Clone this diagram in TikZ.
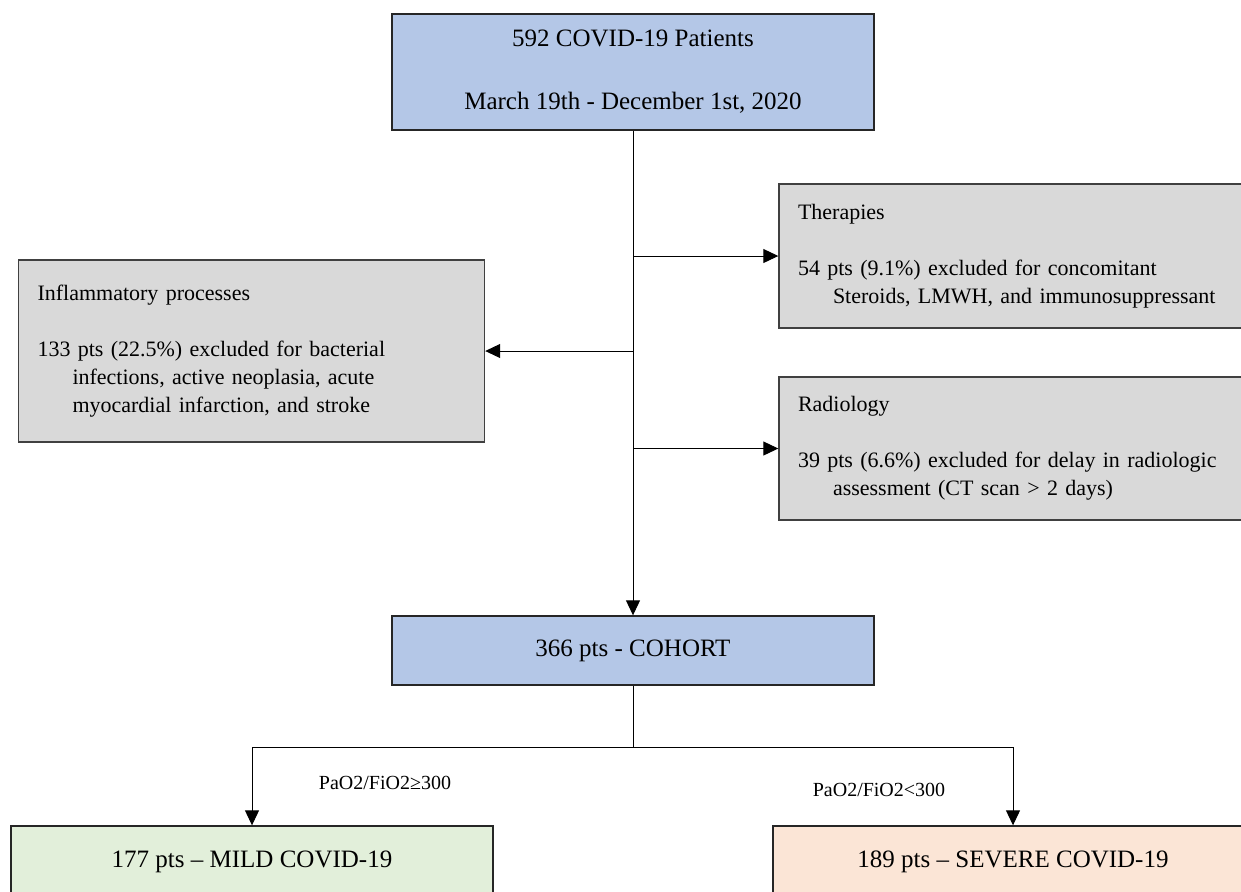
\documentclass[tikz,border=0pt]{standalone}
\usepackage{fontspec}
\setmainfont{Liberation Serif}
\usetikzlibrary{arrows.meta,calc}
\definecolor{boxblue}{HTML}{B4C7E7}
\definecolor{boxgray}{HTML}{D9D9D9}
\definecolor{boxgreen}{HTML}{E2EFDA}
\definecolor{boxpeach}{HTML}{FBE5D6}
\newcommand{\hang}{\newline\hspace*{17.5pt}}

\begin{document}
\begin{tikzpicture}[x=0.5pt,y=-0.5pt,
    mainbox/.style={draw=black!85,line width=0.7pt,fill=boxblue,minimum width=241pt,align=center,font=\fontsize{12.5}{15}\selectfont},
    sidebox/.style={draw=black!75,line width=0.7pt,fill=boxgray,inner xsep=9.5pt,align=left,font=\fontsize{11}{14}\selectfont},
    cond/.style={font=\fontsize{10}{12}\selectfont},
    arr/.style={-{Triangle[length=7.5pt,width=7pt]},line width=0.5pt}]
            \useasboundingbox (0,0) rectangle (1241,891);

            \node[mainbox,minimum height=58pt,font=\fontsize{12.5}{31.5}\selectfont] (top) at (633,72) {592 COVID-19 Patients\\March 19th - December 1st, 2020};
            \node[mainbox,minimum height=34.5pt] (cohort) at (633,650.5) {366 pts - COHORT};
            \node[mainbox,fill=boxgreen,minimum height=36pt] (mild) at (252,862) {177 pts -- MILD COVID-19};
            \node[mainbox,fill=boxpeach,minimum width=240pt,minimum height=36pt] (severe) at (1013,862) {189 pts -- SEVERE COVID-19};

            \node[sidebox,text width=217pt,minimum height=72pt] (ther) at (1015,256) {Therapies\par\vspace{14pt}54 pts (9.1\%) excluded for concomitant\hang Steroids, LMWH, and immunosuppressant};
            \node[sidebox,text width=214pt,minimum height=91pt] (infl) at (251.5,351) {Inflammatory processes\par\vspace{14pt}133 pts (22.5\%) excluded for bacterial\hang infections, active neoplasia, acute\hang myocardial infarction, and stroke};
            \node[sidebox,text width=217pt,minimum height=71.5pt] (radio) at (1015,448.5) {Radiology\par\vspace{14pt}39 pts (6.6\%) excluded for delay in radiologic\hang assessment (CT scan > 2 days)};

            \draw[arr] (top.south) -- (cohort.north);
            \foreach \n in {ther,radio}
                \draw[arr] (top.south |- \n.west) -- (\n.west);
            \draw[arr] (top.south |- infl.east) -- (infl.east);

            \draw[line width=0.5pt] (cohort.south) -- ++(0,62) coordinate (split);
            \foreach \n in {mild,severe}
                \draw[arr] (split) -| (\n.north);

            \node[cond] (lblmild) at (385,783) {PaO2/FiO2≥300};
            \node[cond] (lblsevere) at (879,790) {PaO2/FiO2<300};
        \end{tikzpicture}
\end{document}
